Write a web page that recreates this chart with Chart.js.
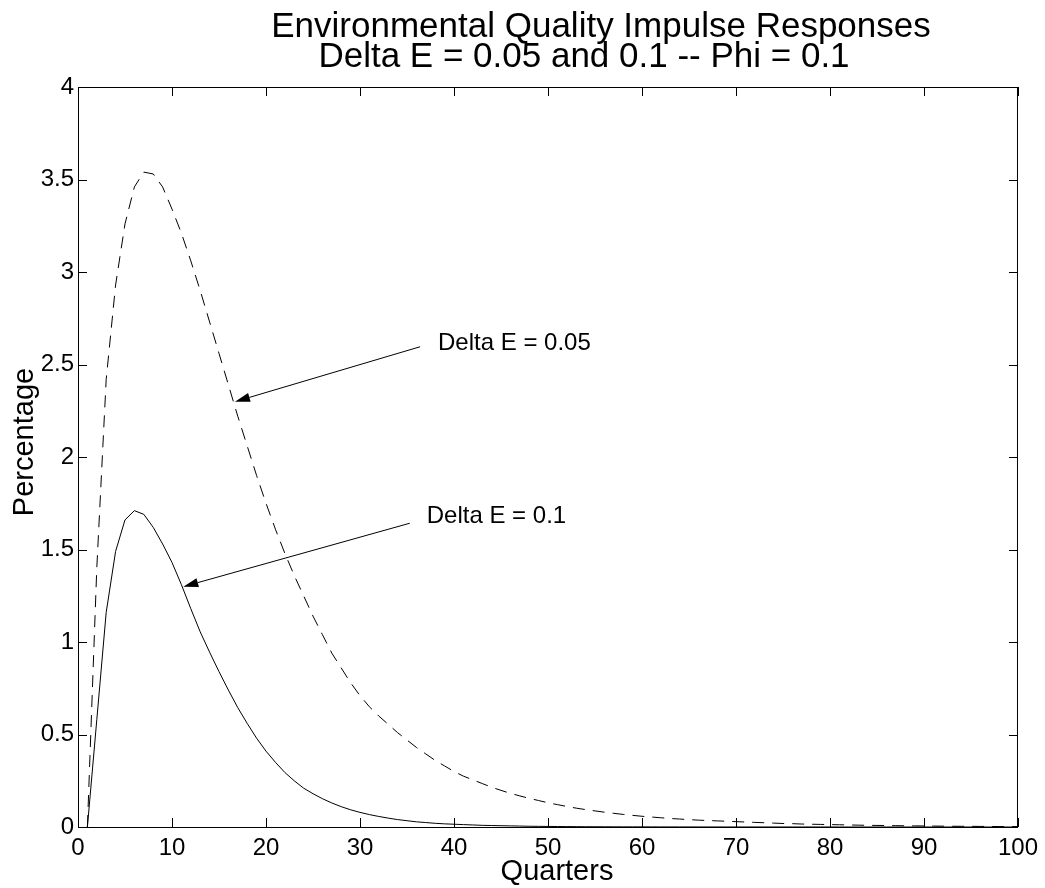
<!DOCTYPE html>
<html>
<head>
<meta charset="utf-8">
<title>Environmental Quality Impulse Responses</title>
<script src="https://cdn.jsdelivr.net/npm/chart.js@4.4.1/dist/chart.umd.min.js"></script>
<style>
  html, body { margin: 0; padding: 0; background: #fff; }
</style>
</head>
<body>
<canvas id="irfChart" width="1045" height="888"></canvas>
<script>
// quarters after the shock
const quarters = [
  1, 2, 3, 4, 5, 6, 7, 8, 9, 10, 11, 12, 13, 14, 15, 16, 17, 18, 19, 20,
  21, 22, 23, 24, 25, 26, 27, 28, 29, 30, 31, 32, 33, 34, 35, 36, 37, 38, 39, 40,
  41, 42, 43, 44, 45, 46, 47, 48, 49, 50, 51, 52, 53, 54, 55, 56, 57, 58, 59, 60,
  61, 62, 63, 64, 65, 66, 67, 68, 69, 70, 71, 72, 73, 74, 75, 76, 77, 78, 79, 80,
  81, 82, 83, 84, 85, 86, 87, 88, 89, 90, 91, 92, 93, 94, 95, 96, 97, 98, 99, 100
];

// Delta E = 0.05 (dashed)
const deltaE005 = [
  0, 1.40, 2.42, 2.93, 3.26, 3.46, 3.54, 3.53, 3.46, 3.34,
  3.21, 3.06, 2.90, 2.73, 2.56, 2.39, 2.22, 2.06, 1.90, 1.75,
  1.61, 1.48, 1.36, 1.25, 1.14, 1.04, 0.94, 0.86, 0.78, 0.71,
  0.65, 0.60, 0.555, 0.51, 0.47, 0.43, 0.395, 0.36, 0.33, 0.30,
  0.275, 0.255, 0.235, 0.215, 0.198, 0.182, 0.168, 0.155, 0.143, 0.131,
  0.121, 0.111, 0.102, 0.094, 0.087, 0.080, 0.074, 0.068, 0.063, 0.058,
  0.054, 0.050, 0.046, 0.043, 0.040, 0.037, 0.035, 0.033, 0.031, 0.029,
  0.027, 0.025, 0.023, 0.021, 0.019, 0.018, 0.016, 0.015, 0.014, 0.013,
  0.012, 0.011, 0.010, 0.009, 0.0085, 0.008, 0.0072, 0.0066, 0.006, 0.0055,
  0.005, 0.0046, 0.0042, 0.0038, 0.0035, 0.0032, 0.0029, 0.0026, 0.0024, 0.0022
];

// Delta E = 0.1 (solid)
const deltaE01 = [
  0, 0.58, 1.16, 1.49, 1.66, 1.71, 1.69, 1.62, 1.53, 1.43,
  1.31, 1.18, 1.055, 0.945, 0.84, 0.74, 0.645, 0.56, 0.48, 0.41,
  0.35, 0.295, 0.25, 0.21, 0.18, 0.153, 0.13, 0.11, 0.093, 0.079,
  0.067, 0.057, 0.048, 0.040, 0.034, 0.028, 0.024, 0.020, 0.017, 0.015,
  0.013, 0.011, 0.009, 0.008, 0.007, 0.006, 0.005, 0.004, 0.0035, 0.003,
  0.0026, 0.0022, 0.0019, 0.0016, 0.0014, 0.0012, 0.001, 0.0009, 0.0008, 0.0007,
  0.0006, 0.0005, 0.0005, 0.0004, 0.0004, 0.0003, 0.0003, 0.0003, 0.0002, 0.0002,
  0.0002, 0.0002, 0.0001, 0.0001, 0.0001, 0.0001, 0.0001, 0.0001, 0.0001, 0.0001,
  0, 0, 0, 0, 0, 0, 0, 0, 0, 0,
  0, 0, 0, 0, 0, 0, 0, 0, 0, 0
];

const titleLines = ['Environmental Quality Impulse Responses', 'Delta E = 0.05 and 0.1 -- Phi = 0.1'];

// annotation labels with arrow tail / tip, in data units
const noteText = ['Delta E = 0.05', 'Delta E = 0.1'];
const noteAt = [[38.3, 2.613], [37.1, 1.678]];
const arrowFrom = [[36.4, 2.596], [35.3, 1.642]];
const arrowTo = [[16.7, 2.299], [11.2, 1.299]];

const FONT = '"Liberation Sans", Arial, Helvetica, sans-serif';
Chart.defaults.font.family = FONT;
Chart.defaults.color = '#000';

function drawArrow(ctx, x0, y0, x1, y1) {
    const ang = Math.atan2(y1 - y0, x1 - x0);
    const len = 15, half = 4.5;
    const bx = x1 - len * Math.cos(ang);
    const by = y1 - len * Math.sin(ang);
    ctx.beginPath();
    ctx.moveTo(x0, y0);
    ctx.lineTo(bx, by);
    ctx.stroke();
    ctx.beginPath();
    ctx.moveTo(x1, y1);
    ctx.lineTo(bx + half * Math.sin(ang), by - half * Math.cos(ang));
    ctx.lineTo(bx - half * Math.sin(ang), by + half * Math.cos(ang));
    ctx.closePath();
    ctx.fill();
}

// matlab style box, inward ticks, titles and arrows
const matlabFrame = {
    id: 'matlabFrame',
    afterDraw(chart) {
        const ctx = chart.ctx;
        const area = chart.chartArea;
        const xs = chart.scales.x;
        const ys = chart.scales.y;
        const tick = 9;

        ctx.save();
        ctx.strokeStyle = '#000';
        ctx.fillStyle = '#000';
        ctx.lineWidth = 1;

        ctx.strokeRect(area.left + 0.5, area.top + 0.5, area.right - area.left - 1, area.bottom - area.top);

        ctx.beginPath();
        xs.ticks.forEach(t => {
            const px = Math.round(xs.getPixelForValue(t.value)) + 0.5;
            ctx.moveTo(px, area.bottom);
            ctx.lineTo(px, area.bottom - tick);
            ctx.moveTo(px, area.top);
            ctx.lineTo(px, area.top + tick);
        });
        ys.ticks.forEach(t => {
            const py = Math.round(ys.getPixelForValue(t.value)) + 0.5;
            ctx.moveTo(area.left, py);
            ctx.lineTo(area.left + tick, py);
            ctx.moveTo(area.right, py);
            ctx.lineTo(area.right - tick, py);
        });
        ctx.stroke();

        // title
        ctx.font = '35px ' + FONT;
        ctx.textAlign = 'center';
        ctx.textBaseline = 'alphabetic';
        ctx.fillText(titleLines[0], 601, 37);
        ctx.fillText(titleLines[1], 584, 67);

        // axis labels
        ctx.font = '29px ' + FONT;
        ctx.fillText('Quarters', 557, 880);
        ctx.save();
        ctx.translate(33, 442);
        ctx.rotate(-Math.PI / 2);
        ctx.fillText('Percentage', 0, 0);
        ctx.restore();

        // annotations
        ctx.font = '24px ' + FONT;
        ctx.textAlign = 'left';
        ctx.textBaseline = 'middle';
        for (let i = 0; i < noteText.length; i++) {
            ctx.fillText(noteText[i], xs.getPixelForValue(noteAt[i][0]), ys.getPixelForValue(noteAt[i][1]));
            drawArrow(ctx,
                xs.getPixelForValue(arrowFrom[i][0]), ys.getPixelForValue(arrowFrom[i][1]),
                xs.getPixelForValue(arrowTo[i][0]), ys.getPixelForValue(arrowTo[i][1]));
        }
        ctx.restore();
    }
};

const ctx = document.getElementById('irfChart').getContext('2d');

new Chart(ctx, {
    type: 'line',
    data: {
        datasets: [{
            label: 'Delta E = 0.05',
            data: quarters.map((q, i) => ({ x: q, y: deltaE005[i] })),
            borderColor: '#000',
            borderWidth: 1,
            borderDash: [12, 8],
            pointRadius: 0,
            tension: 0,
            fill: false
        }, {
            label: 'Delta E = 0.1',
            data: quarters.map((q, i) => ({ x: q, y: deltaE01[i] })),
            borderColor: '#000',
            borderWidth: 1,
            pointRadius: 0,
            tension: 0,
            fill: false
        }]
    },
    options: {
        responsive: false,
        animation: false,
        events: [],
        layout: {
            padding: { top: 87, right: 27, left: 0, bottom: 0 }
        },
        plugins: {
            legend: { display: false },
            title: { display: false },
            tooltip: { enabled: false }
        },
        scales: {
            x: {
                type: 'linear',
                min: 0,
                max: 100,
                grid: { display: false, drawTicks: false, tickLength: 0 },
                border: { display: false },
                ticks: {
                    stepSize: 10,
                    padding: 7,
                    maxRotation: 0,
                    font: { size: 24 }
                },
                afterFit(scale) { scale.height = 61; }
            },
            y: {
                min: 0,
                max: 4,
                grid: { display: false, drawTicks: false, tickLength: 0 },
                border: { display: false },
                ticks: {
                    stepSize: 0.5,
                    padding: 4,
                    font: { size: 24 },
                    callback: v => String(v)
                },
                afterFit(scale) { scale.width = 78; }
            }
        }
    },
    plugins: [matlabFrame]
});
</script>
</body>
</html>
